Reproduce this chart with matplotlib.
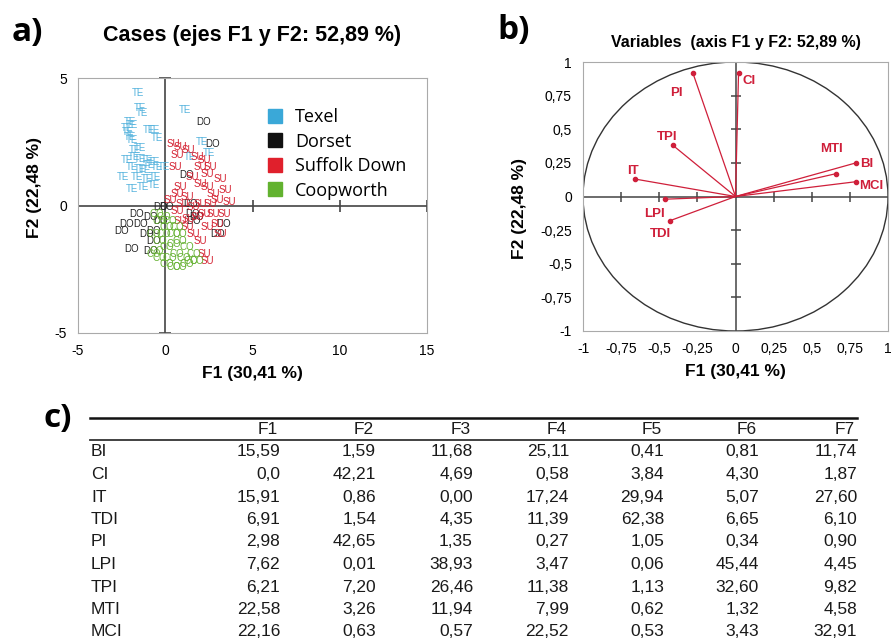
import numpy as np
import matplotlib
matplotlib.use('Agg')
import matplotlib.pyplot as plt
from matplotlib.lines import Line2D
from matplotlib.patches import Ellipse

plt.rcParams['font.family'] = ['Liberation Sans', 'DejaVu Sans']
plt.rcParams['axes.unicode_minus'] = False

# --- a) casos sobre F1/F2 (leídos del gráfico) ---
te_x = [-1.54, -1.44, -1.34, -2.02, -1.92, -2.21, -2.11, -2.02, -1.92, -0.96, -0.67, -0.48,
        -1.44, -1.82, -1.44, -1.06, -0.67, -1.92, -1.44, -0.96, -0.48, -0.10, -2.40, -1.63,
        -1.06, -0.58, -1.92, -1.25, -0.67, 1.15, 2.11, 1.44, 2.50, -1.73, -1.15, -2.21]
te_y = [4.41, 3.82, 3.62, 3.29, 3.16, 3.03, 2.89, 2.70, 2.57, 2.96, 2.96, 2.63,
        2.24, 1.91, 1.84, 1.78, 1.71, 1.51, 1.45, 1.58, 1.51, 1.51, 1.12, 1.12,
        1.05, 1.12, 0.66, 0.72, 0.79, 3.75, 2.50, 1.91, 2.04, 2.17, 1.38, 1.78]

su_x = [0.48, 0.86, 1.34, 0.67, 0.58, 1.82, 2.21, 2.59, 3.17, 3.45, 3.65, 3.36, 2.98, 3.17,
        2.21, 2.40, 0.67, 0.86, 1.25, 1.63, 2.02, 2.40, 2.78, 1.82, 1.25, 1.63, 0.67, 0.86,
        2.02, 2.59, 2.40, 2.98, 1.54, 2.21, 2.78, 1.34, 2.02, 0.29, 0.96, 2.40, 2.02]
su_y = [2.43, 2.30, 2.17, 1.97, 1.51, 1.91, 1.78, 1.51, 1.05, 0.59, 0.13, -0.33, -0.72, -1.12,
        -1.91, -2.17, 0.46, 0.72, 0.33, -0.07, 0.86, 0.72, 0.46, -0.46, -0.86, -1.12, -0.20, -0.59,
        0.07, 0.07, 1.25, 0.20, 1.12, -0.33, -0.33, -0.53, 1.51, 0.20, 0.07, -0.86, -1.38]

do_x = [2.21, 2.69, 1.25, -1.63, -2.21, -2.50, -1.44, -0.86, -1.06, -0.67, -1.92, -0.29,
        1.44, 1.82, 1.63, 3.36, 2.98, -0.67, -0.86, -0.29, 0.10, 1.54]
do_y = [3.29, 2.43, 1.18, -0.33, -0.72, -0.99, -0.72, -0.46, -1.12, -0.99, -1.71, -0.07,
        0.07, -0.46, -0.59, -0.72, -1.12, -1.38, -1.78, -0.59, -0.07, -0.33]

co_x = [-0.48, -0.29, 0.10, 0.48, -0.67, -0.29, 0.10, 0.48, 0.86, 1.25, 1.63, 1.82, 1.25, 0.86,
        0.48, 0.10, -0.29, -0.48, 0.29, 0.67, 1.06, 1.44, -0.10, 0.29, 0.67, 0.86, -0.67, -0.10]
co_y = [-0.33, -0.59, -0.86, -1.12, -1.12, -1.38, -1.64, -1.51, -1.38, -1.64, -1.91, -2.17, -2.30, -2.43,
        -2.43, -2.30, -2.04, -1.78, -2.04, -1.91, -2.04, -2.17, -0.46, -0.59, -0.86, -1.12, -1.91, -1.12]

breeds = ['Texel', 'Dorset', 'Suffolk Down', 'Coopworth']
breed_colors = ['#3aa8d8', '#111111', '#e0202c', '#62b22f']
label_colors = ['#55b3dd', '#222222', '#d42232', '#66b233']

# --- b) círculo de correlaciones ---
var_names = ['CI', 'PI', 'TPI', 'IT', 'LPI', 'TDI', 'MTI', 'BI', 'MCI']
var_f1 = [0.02, -0.28, -0.41, -0.66, -0.46, -0.43, 0.66, 0.79, 0.79]
var_f2 = [0.92, 0.92, 0.38, 0.13, -0.02, -0.18, 0.17, 0.25, 0.11]
# desplazamiento de etiquetas (F1, F2)
lab_off = [(0.07, -0.06), (-0.11, -0.15), (-0.04, 0.06), (-0.01, 0.06), (-0.07, -0.11),
           (-0.06, -0.10), (-0.03, 0.18), (0.07, -0.01), (0.10, -0.03)]

# --- c) tabla de contribuciones ---
col_names = ['F1', 'F2', 'F3', 'F4', 'F5', 'F6', 'F7']
row_names = ['BI', 'CI', 'IT', 'TDI', 'PI', 'LPI', 'TPI', 'MTI', 'MCI']
table_vals = [
    ['15,59', '1,59', '11,68', '25,11', '0,41', '0,81', '11,74'],
    ['0,0', '42,21', '4,69', '0,58', '3,84', '4,30', '1,87'],
    ['15,91', '0,86', '0,00', '17,24', '29,94', '5,07', '27,60'],
    ['6,91', '1,54', '4,35', '11,39', '62,38', '6,65', '6,10'],
    ['2,98', '42,65', '1,35', '0,27', '1,05', '0,34', '0,90'],
    ['7,62', '0,01', '38,93', '3,47', '0,06', '45,44', '4,45'],
    ['6,21', '7,20', '26,46', '11,38', '1,13', '32,60', '9,82'],
    ['22,58', '3,26', '11,94', '7,99', '0,62', '1,32', '4,58'],
    ['22,16', '0,63', '0,57', '22,52', '0,53', '3,43', '32,91'],
]

fig = plt.figure(figsize=(8.91, 6.39), dpi=100)
W, H = 891, 639

def px_axes(l, t, r, b):
    return fig.add_axes([l / W, 1 - b / H, (r - l) / W, (b - t) / H])

frame_col = '#aaaaaa'
zero_col = '#444444'

# ---------------- a) ----------------
ax = px_axes(78, 78, 427, 333)
ax.set_xlim(-5, 15)
ax.set_ylim(-5, 5)
for s in ax.spines.values():
    s.set_color(frame_col)
ax.axhline(0, color=zero_col, lw=1.2)
ax.axvline(0, color=zero_col, lw=1.2)
ax.plot([5, 10, 15], [0, 0, 0], ls='', marker='|', ms=8, color=zero_col, mew=1.2)
ax.plot([0, 0], [5, -5], ls='', marker='_', ms=8, color=zero_col, mew=1.2, clip_on=False)
ax.set_xticks([-5, 0, 5, 10, 15])
ax.set_yticks([-5, 0, 5])
ax.tick_params(length=0, labelsize=10, pad=8)

groups = [(te_x, te_y, 'TE', 0), (do_x, do_y, 'DO', 1), (su_x, su_y, 'SU', 2), (co_x, co_y, 'CO', 3)]
for gx, gy, lab, k in groups:
    for x, y in zip(gx, gy):
        ax.text(x, y, lab, fontsize=7, color=label_colors[k], ha='center', va='center', clip_on=True)

handles = [Line2D([], [], ls='', marker='s', ms=9.5, color=c) for c in breed_colors]
ax.legend(handles, breeds, loc='upper left', bbox_to_anchor=(0.487, 0.945), frameon=False,
          labelspacing=0.36, handletextpad=0.5, handlelength=1.2,
          prop={'family': ['Open Sans', 'DejaVu Sans'], 'size': 13})

ax.set_xlabel('F1 (30,41 %)', fontsize=12.5, fontweight='bold', labelpad=6)
ax.set_ylabel('F2 (22,48 %)', fontsize=12.5, fontweight='bold')
ax.yaxis.set_label_coords(-0.103, 0.57)
ax.set_title('Cases (ejes F1 y F2: 52,89 %)', fontsize=15.5, fontweight='bold', pad=27)

# ---------------- b) ----------------
bx = px_axes(583, 62, 888, 331)
bx.set_xlim(-1, 1)
bx.set_ylim(-1, 1)
for s in bx.spines.values():
    s.set_color(frame_col)
bx.add_patch(Ellipse((0, 0), 2, 2, fill=False, ec='#333333', lw=1))
bx.axhline(0, color=zero_col, lw=1.1)
bx.axvline(0, color=zero_col, lw=1.1)
tk = [-0.75, -0.5, -0.25, 0.25, 0.5, 0.75]
bx.plot(tk, [0] * len(tk), ls='', marker='|', ms=7, color=zero_col, mew=1.1)
bx.plot([0] * len(tk), tk, ls='', marker='_', ms=7, color=zero_col, mew=1.1)
vec_col = '#cf1f3a'
for name, x, y, (dx, dy) in zip(var_names, var_f1, var_f2, lab_off):
    bx.plot([0, x], [0, y], color=vec_col, lw=0.9)
    bx.plot(x, y, 'o', ms=3, color=vec_col)
    bx.text(x + dx, y + dy, name, fontsize=9.5, fontweight='bold', color=vec_col,
            ha='center', va='center')
bt = [-1, -0.75, -0.5, -0.25, 0, 0.25, 0.5, 0.75, 1]
bt_lab = ['-1', '-0,75', '-0,5', '-0,25', '0', '0,25', '0,5', '0,75', '1']
bx.set_xticks(bt, bt_lab)
bx.set_yticks(bt, bt_lab)
bx.tick_params(length=0, labelsize=10, pad=8)
bx.set_xlabel('F1 (30,41 %)', fontsize=12.5, fontweight='bold', labelpad=6)
bx.set_ylabel('F2 (22,48 %)', fontsize=12.5, fontweight='bold')
bx.yaxis.set_label_coords(-0.184, 0.457)
fig.text(736 / W, 1 - 42 / H, 'Variables  (axis F1 y F2: 52,89 %)', fontsize=11.5,
         fontweight='bold', ha='center', va='center')

# ---------------- c) ----------------
tx = fig.add_axes([0, 0, 1, 1])
tx.set_xlim(0, W)
tx.set_ylim(H, 0)
tx.axis('off')
tx.patch.set_alpha(0)
tx.plot([90, 857], [418, 418], color='#111111', lw=1.8)
tx.plot([90, 857], [440, 440], color='#333333', lw=1.3)
col_right = [280, 376, 473, 569, 664, 759, 857]
tcol = '#1a1a1a'
for cx, cn in zip(col_right, col_names):
    tx.text(cx - 2, 430, cn, fontsize=12.5, ha='right', va='center', color=tcol)
for i, (rn, vals) in enumerate(zip(row_names, table_vals)):
    ry = 452 + i * 22.5
    tx.text(91, ry, rn, fontsize=12.5, ha='left', va='center', color=tcol)
    for cx, v in zip(col_right, vals):
        tx.text(cx, ry, v, fontsize=12.5, ha='right', va='center', color=tcol)

# etiquetas de panel
for lab, x, y in [('a)', 27, 32), ('b)', 514, 30), ('c)', 58, 419)]:
    fig.text(x / W, 1 - y / H, lab, fontsize=24, fontweight='bold', ha='center', va='center',
             family=['Open Sans', 'DejaVu Sans'])

fig.savefig('out.png', dpi=100)
